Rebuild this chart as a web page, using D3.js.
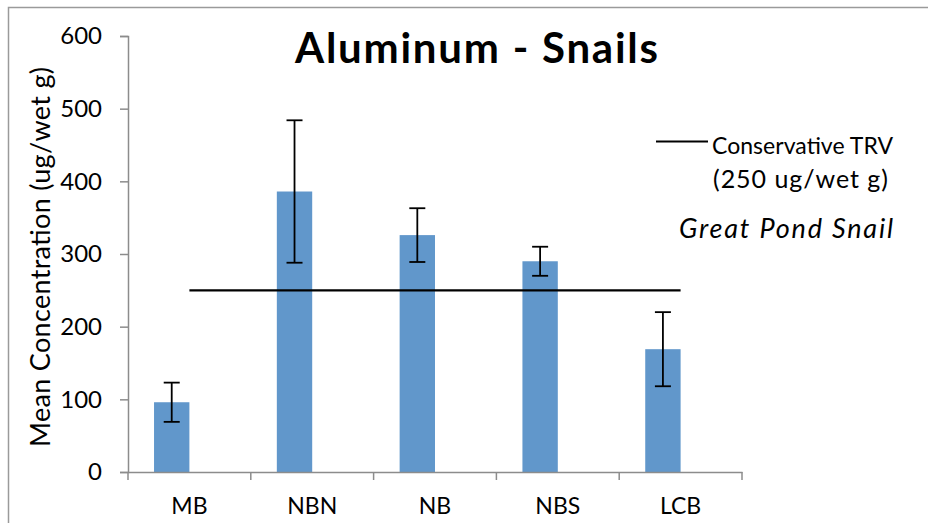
<!DOCTYPE html>
<html><head><meta charset="utf-8">
<script src="https://cdn.jsdelivr.net/npm/d3@7"></script>
<style>body{margin:0;background:#fff}svg{display:block}text{font-family:Lato,"Open Sans",sans-serif}</style>
</head><body><svg id="c" width="928" height="523"></svg>
<script>
const categories = ["MB","NBN","NB","NBS","LCB"];
const means = [96, 386, 326, 290, 169];
const errors = [27, 98, 37, 20, 51];
const trv = 250;
const yTicks = [0,100,200,300,400,500,600];

const svg = d3.select("#c");
const W = 928, H = 523;
const m = {left:128, right:186, top:36, bottom:51};
const x = d3.scaleBand().domain(categories).range([m.left, W-m.right]);
const y = d3.scaleLinear().domain([0,600]).range([H-m.bottom, m.top]);
const bw = x.bandwidth()*0.288;
const axisColor = "#8c8c8c";

svg.append("rect").attr("x",8.5).attr("y",7.5).attr("width",W).attr("height",H)
  .attr("fill","none").attr("stroke","#9a9a9a").attr("stroke-width",1.5);

// bars
svg.selectAll("rect.bar").data(categories).join("rect").attr("class","bar")
  .attr("x",d=>x(d)+x.bandwidth()/2-bw).attr("width",bw)
  .attr("y",(d,i)=>y(means[i])).attr("height",(d,i)=>y(0)-y(means[i]))
  .attr("fill","#6197CB");

// error bars
const eb = svg.append("g").attr("stroke","#000").attr("stroke-width",1.8);
categories.forEach((c,i)=>{
  const cx = x(c)+x.bandwidth()/2-bw/2;
  eb.append("line").attr("x1",cx).attr("x2",cx).attr("y1",y(means[i]+errors[i])).attr("y2",y(means[i]-errors[i]));
  [means[i]+errors[i], means[i]-errors[i]].forEach(v=>{
    eb.append("line").attr("x1",cx-8).attr("x2",cx+8).attr("y1",y(v)).attr("y2",y(v));
  });
});

// TRV line
svg.append("line")
  .attr("x1",x(categories[0])+x.bandwidth()/2).attr("x2",x(categories[categories.length-1])+x.bandwidth()/2)
  .attr("y1",y(trv)).attr("y2",y(trv)).attr("stroke","#000").attr("stroke-width",2.2);

// y axis
const ya = svg.append("g").attr("transform",`translate(${m.left},0)`)
  .call(d3.axisLeft(y).tickValues(yTicks).tickSize(8).tickPadding(18));
ya.select(".domain").attr("stroke",axisColor).attr("stroke-width",1.5);
ya.selectAll(".tick line").attr("stroke",axisColor).attr("stroke-width",1.5);
ya.selectAll(".tick text").attr("font-size",24).attr("fill","#000").attr("font-family","Lato");

// x axis
const xa = svg.append("g").attr("transform",`translate(0,${H-m.bottom})`)
  .call(d3.axisBottom(x).tickSize(0));
xa.select(".domain").attr("stroke",axisColor).attr("stroke-width",1.5);
xa.selectAll(".tick text").attr("font-size",23).attr("fill","#000").attr("font-family","Lato")
  .attr("y",42).attr("dy",0);
const xticks = categories.map(c=>x(c)).concat([W-m.right]);
xa.selectAll("line.xt").data(xticks).join("line").attr("class","xt")
  .attr("x1",d=>d).attr("x2",d=>d).attr("y1",0).attr("y2",8)
  .attr("stroke",axisColor).attr("stroke-width",1.5);

// title
svg.append("text").attr("x",476.5).attr("y",63).attr("text-anchor","middle")
  .attr("font-size",42).attr("font-weight","bold")
  .attr("textLength",363).attr("lengthAdjust","spacing").text("Aluminum - Snails");

// y label
svg.append("text").attr("transform","translate(50,257) rotate(-90)").attr("text-anchor","middle")
  .attr("font-size",27).attr("textLength",380).attr("lengthAdjust","spacing")
  .text("Mean Concentration (ug/wet g)");

// legend
svg.append("line").attr("x1",656).attr("x2",708).attr("y1",141.5).attr("y2",141.5)
  .attr("stroke","#000").attr("stroke-width",2);
svg.append("text").attr("x",712).attr("y",154).attr("font-size",23)
  .attr("textLength",181).attr("lengthAdjust","spacing").text("Conservative TRV");
svg.append("text").attr("x",713).attr("y",188).attr("font-size",25)
  .attr("textLength",175).attr("lengthAdjust","spacing").text("(250 ug/wet g)");
svg.append("text").attr("x",679).attr("y",238).attr("font-size",27).attr("font-style","italic")
  .attr("textLength",214).attr("lengthAdjust","spacing").text("Great Pond Snail");
</script></body></html>
